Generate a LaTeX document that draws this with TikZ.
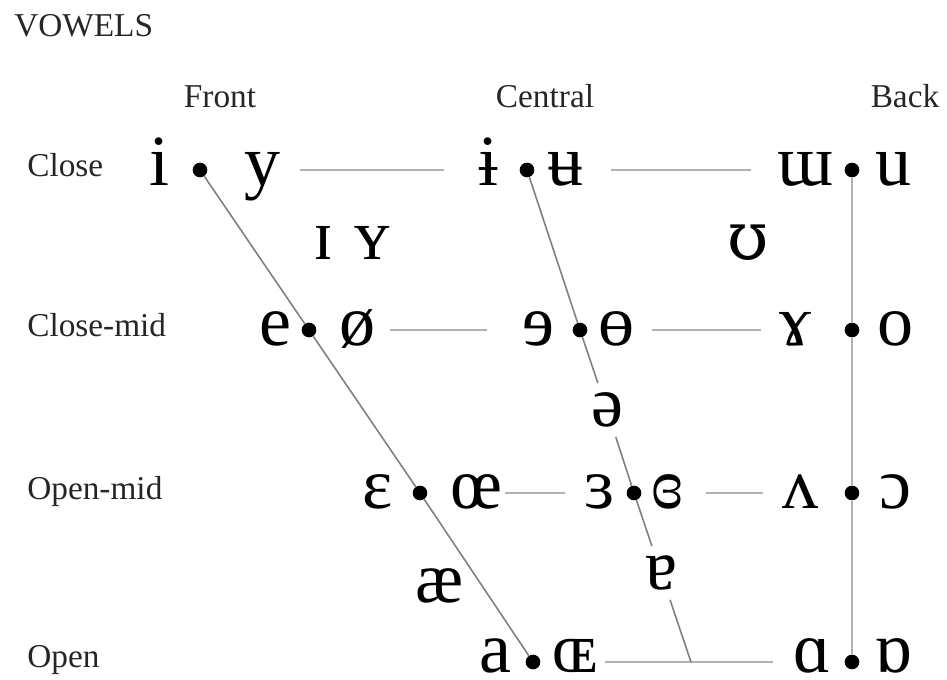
\documentclass[tikz,border=0pt]{standalone}
\usepackage{fontspec}
\setmainfont{Liberation Serif}
\newfontfamily\ipaalt{DejaVu Serif}
\usetikzlibrary{positioning}
\colorlet{LabelInk}{black!85}
\colorlet{RowGrey}{black!30}
\colorlet{EdgeGrey}{black!50}

\begin{document}
\begin{tikzpicture}[
      x=0.75pt,y=-0.75pt,
      dot/.style={circle,fill=black,inner sep=0pt,minimum size=11pt},
      vow/.style={inner sep=0pt,anchor=base,font=\fontsize{54}{60}\selectfont},
      gapvow/.style={inner sep=7pt,font=\fontsize{54}{60}\selectfont},
      lbl/.style={inner sep=0pt,text=LabelInk,font=\fontsize{25}{30}\selectfont},
      hline/.style={RowGrey,line width=1.8pt},
      diag/.style={EdgeGrey,line width=1.2pt},
      vline/.style={RowGrey,line width=1.6pt}
    ]
    \useasboundingbox (0,0) rectangle (947,680);
    % headings
    \node[lbl,anchor=base west] (title) at (14,37) {VOWELS};
    \node[lbl,anchor=base] (front) at (220,108) {Front};
    \node[lbl,anchor=base] (central) at (545,108) {Central};
    \node[lbl,anchor=base] (back) at (905,108) {Back};
    \node[lbl,anchor=base west] (close) at (27,177) {Close};
    \node[lbl,anchor=base west] (closemid) at (27,337) {Close-mid};
    \node[lbl,anchor=base west] (openmid) at (27,500) {Open-mid};
    \node[lbl,anchor=base west] (open) at (27,668) {Open};
    % dots on the trapezium
    \node[dot] (fc) at (200,170) {};
    \node[dot] (cc) at (527,170) {};
    \node[dot] (bc) at (852,170) {};
    \node[dot] (fcm) at (309,330) {};
    \node[dot] (ccm) at (580,330) {};
    \node[dot] (bcm) at (852,330) {};
    \node[dot] (fom) at (420,493) {};
    \node[dot] (com) at (634,493) {};
    \node[dot] (bom) at (852,493) {};
    \node[dot] (fo) at (533,662) {};
    \node[dot] (bo) at (852,662) {};
    \coordinate (co) at (691,662);
    % close
    \node[vow] (i) at (160,186) {i};
    \node[vow] (y) at (262,186) {y};
    \node[vow] (ibar) at (488,186) {ɨ};
    \node[vow] (ubar) at (565,186) {ʉ};
    \node[vow] (turnm) at (805,186) {ɯ};
    \node[vow] (u) at (893,186) {u};
    % near-close
    \node[vow] (capi) at (323,260) {ɪ};
    \node[vow] (capy) at (372,260) {ʏ};
    \node[vow,font=\fontsize{50}{60}\ipaalt] (upsilon) at (748,260) {ʊ};
    % close-mid
    \node[vow] (e) at (275,346) {e};
    \node[vow] (oslash) at (357,346) {ø};
    \node[vow] (reve) at (538,346) {ɘ};
    \node[vow] (obar) at (616,346) {ɵ};
    \node[vow] (ramshorn) at (795,346) {ɤ};
    \node[vow] (o) at (895,346) {o};
    % mid
    \node[gapvow] (schwa) at (607,410) {ə};
    % open-mid
    \node[vow] (eps) at (378,509) {ɛ};
    \node[vow] (oe) at (476,509) {œ};
    \node[vow] (reveps) at (600,509) {ɜ};
    \node[vow] (creveps) at (667,509) {ɞ};
    \node[vow] (turnv) at (800,509) {ʌ};
    \node[vow] (openo) at (895,509) {ɔ};
    % near-open
    \node[vow] (ash) at (440,603) {æ};
    \node[gapvow] (turna) at (661,573) {ɐ};
    % open
    \node[vow] (a) at (495,673) {a};
    \node[vow] (capoe) at (575,673) {ɶ};
    \node[vow] (scripta) at (812,673) {ɑ};
    \node[vow] (turnscripta) at (893,673) {ɒ};
    % rows
    \draw[hline,shorten <=15pt,shorten >=25pt] (y.east |- fc) -- (ibar.west |- cc);
    \draw[hline,shorten <=21pt,shorten >=19pt] (ubar.east |- cc) -- (turnm.west |- bc);
    \draw[hline,shorten <=11pt,shorten >=26pt] (oslash.east |- fcm) -- (reve.west |- ccm);
    \draw[hline,shorten <=13pt,shorten >=13pt] (obar.east |- ccm) -- (ramshorn.west |- bcm);
    \draw[hline,shorten <=2pt,shorten >=15pt] (oe.east |- fom) -- (reveps.west |- com);
    \draw[hline,shorten <=17pt,shorten >=14pt] (creveps.east |- com) -- (turnv.west |- bom);
    \draw[hline,shorten <=5pt,shorten >=15pt] (capoe.east |- fo) -- (scripta.west |- bo);
    % edges
    \draw[diag] (fc) -- (fcm) -- (fom) -- (fo);
    \draw[diag] (cc) -- (ccm) -- (schwa) -- (com) -- (turna) -- (co);
    \draw[vline] (bc) -- (bcm) -- (bom) -- (bo);
  \end{tikzpicture}
\end{document}
